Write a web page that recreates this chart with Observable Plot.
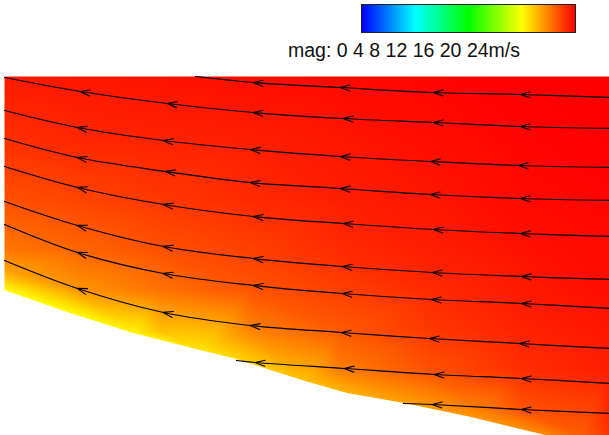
<!DOCTYPE html>
<html><head><meta charset="utf-8">
<script src="https://cdn.jsdelivr.net/npm/d3@7"></script>
<script src="https://cdn.jsdelivr.net/npm/@observablehq/plot@0.6"></script>
<style>
body{margin:0;background:#fff;font-family:"Liberation Sans",Arial,sans-serif;}
#legend{position:relative;width:609px;height:76px;}
#bar{position:absolute;left:361px;top:4px;width:213px;height:27px;border:1px solid #222;}
#label{position:absolute;left:288px;top:39.5px;font-size:19.5px;line-height:1.117;color:#111;white-space:nowrap;}
svg{display:block;}
</style></head><body>
<div id="legend"><div id="bar"></div><div id="label">mag: 0 4 8 12 16 20 24m/s</div></div>
<div id="chart"></div>
<script>
// colour map (velocity magnitude, m/s)
const colorStops = ["#0000ff", "#00ffff", "#00ff00", "#ffff00", "#ff0000"];
const magDomain = [0, 24];

// sampled velocity magnitude field (x, y in mm; v in m/s)
const sampleX = [
  0, 76, 156, 246, 336, 426, 516, 605,
  0, 76, 156, 246, 336, 426, 516, 605,
  0, 76, 156, 246, 336, 426, 516, 605,
  0, 76, 156, 246, 336, 426, 516, 605,
  0,
  0, 76, 156, 246, 336, 426, 516, 605,
  156, 246, 336, 426, 516, 605,
  336, 426, 516, 605,
  476, 516, 605,
  541, 576, 605,
  63, 129, 196, 229, 301, 343, 400, 467, 533,
  0, 296
];
const sampleY = [
  359, 359, 359, 359, 359, 359, 359, 359,
  295, 295, 295, 295, 295, 295, 295, 295,
  235, 235, 235, 235, 235, 235, 235, 235,
  185, 185, 185, 185, 185, 185, 185, 185,
  165,
  145, 145, 145, 145, 145, 145, 145, 145,
  105, 105, 105, 105, 105, 105,
  65, 65, 65, 65,
  25, 25, 25,
  0, 0, 0,
  123, 102, 85, 77, 54, 42, 32, 18, 2,
  0, 0
];
const sampleV = [
  23.4, 23.5, 23.6, 23.7, 23.8, 23.9, 24.0, 24.0,
  22.9, 23.1, 23.2, 23.3, 23.5, 23.7, 23.9, 24.0,
  22.1, 22.4, 22.7, 23.0, 23.3, 23.5, 23.8, 23.9,
  21.2, 21.6, 22.1, 22.5, 23.0, 23.3, 23.6, 23.8,
  20.2,
  18.0, 20.5, 21.3, 22.0, 22.5, 23.0, 23.4, 23.7,
  19.5, 20.9, 21.9, 22.7, 23.2, 23.5,
  21.0, 22.1, 22.9, 23.3,
  21.0, 22.0, 23.1,
  20.7, 21.8, 22.8,
  18.0, 18.2, 18.6, 18.9, 19.5, 19.8, 20.2, 20.5, 20.7,
  18.0, 19.0
];

// lower wall of the flow domain
const boundaryX = [0, 63, 129, 196, 229, 301, 343, 400, 467, 533, 541];
const boundaryY = [145, 123, 102, 85, 77, 54, 42, 32, 18, 2, 0];

// streamlines (listed in flow direction, right to left)
const streamlines = [
  {id: "A", x: [605, 516, 429, 336, 249, 191], y: [338, 341, 343, 348, 353, 359]},
  {id: "B", x: [605, 516, 429, 339, 249, 163, 76, 0], y: [307, 309, 313, 317, 323, 332, 344, 358]},
  {id: "C", x: [605, 514, 426, 336, 246, 159, 73, 0], y: [268, 270, 274, 279, 286, 295, 308, 325]},
  {id: "D", x: [605, 516, 426, 336, 246, 161, 73, 0], y: [235, 237, 241, 247, 253, 264, 278, 297]},
  {id: "E", x: [605, 516, 429, 339, 249, 159, 73, 0], y: [199, 202, 206, 212, 219, 231, 248, 269]},
  {id: "F", x: [605, 517, 428, 338, 249, 159, 73, 0], y: [156, 159, 163, 169, 177, 189, 210, 234]},
  {id: "G", x: [605, 517, 427, 338, 249, 159, 73, 0], y: [127, 132, 136, 142, 150, 162, 183, 211]},
  {id: "H", x: [605, 515, 425, 337, 246, 159, 73, 0], y: [87, 92, 97, 103, 110, 123, 147, 175]},
  {id: "I", x: [605, 517, 430, 340, 251, 232], y: [52, 57, 61, 67, 73, 75]},
  {id: "J", x: [605, 517, 428, 399], y: [22, 26, 31, 32]}
];

const colorFn = d3.piecewise(d3.interpolateRgb, colorStops);
const stops = d3.range(0, 1.0001, 0.05).map(t => `${colorFn(t)} ${(t * 100).toFixed(1)}%`);
document.getElementById("bar").style.background = `linear-gradient(to right, ${stops.join(",")})`;

const samples = sampleX.map((x, i) => ({x, y: sampleY[i], v: sampleV[i]}));
const boundary = boundaryX.map((x, i) => ({x, y: boundaryY[i]}));
const lineRows = streamlines.flatMap(s => s.x.map((x, i) => ({id: s.id, x, y: s.y[i]})));

const NS = "http://www.w3.org/2000/svg";
function chevron(color, context) {
  const doc = (context && context.document) || document;
  const m = doc.createElementNS(NS, "marker");
  m.setAttribute("viewBox", "-11 -5 13 10");
  m.setAttribute("markerWidth", "13");
  m.setAttribute("markerHeight", "10");
  m.setAttribute("markerUnits", "userSpaceOnUse");
  m.setAttribute("orient", "auto");
  m.setAttribute("overflow", "visible");
  const p = doc.createElementNS(NS, "path");
  p.setAttribute("d", "M-9.5,-3L0.5,0L-9.5,3");
  p.setAttribute("fill", "none");
  p.setAttribute("stroke", color);
  p.setAttribute("stroke-width", "1.1");
  m.appendChild(p);
  return m;
}

function build(marker) {
  return Plot.plot({
    width: 609, height: 359,
    marginLeft: 4, marginRight: 0, marginTop: 0, marginBottom: 0,
    x: {domain: [0, 605], axis: null},
    y: {domain: [0, 359], axis: null},
    color: {type: "linear", domain: magDomain, interpolate: colorFn},
    marks: [
      Plot.raster(samples, {x: "x", y: "y", fill: "v", interpolate: "barycentric", x1: 0, x2: 605, y1: 0, y2: 359, pixelSize: 1}),
      Plot.areaY(boundary, {x: "x", y: "y", fill: "white"}),
      Plot.line(lineRows, {x: "x", y: "y", z: "id", stroke: "black", strokeWidth: 1.25, curve: "catmull-rom", markerMid: marker})
    ]
  });
}
let chart;
try { chart = build(chevron); } catch (e) { chart = build("arrow"); }
document.getElementById("chart").appendChild(chart);
</script>
</body></html>
